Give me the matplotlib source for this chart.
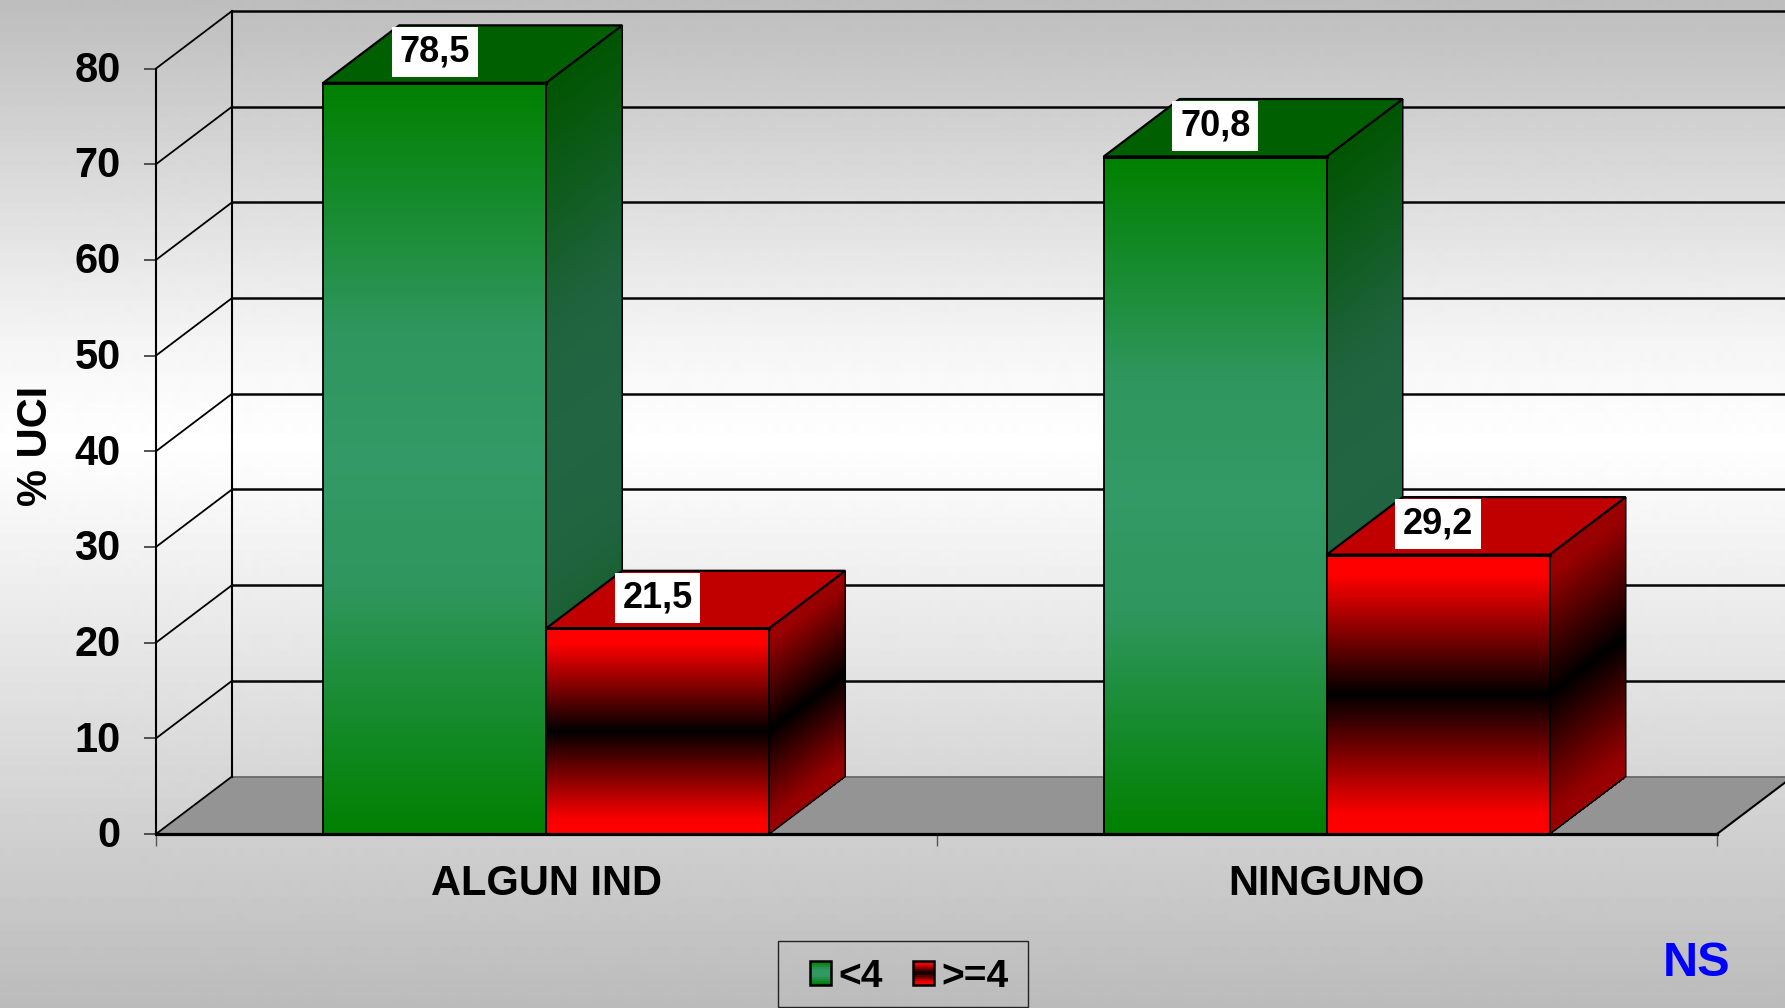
import numpy as np
import matplotlib
matplotlib.use("Agg")
import matplotlib.pyplot as plt
from matplotlib.legend_handler import HandlerBase
from matplotlib.patches import Patch, Polygon, Rectangle
from matplotlib.transforms import ScaledTranslation

categories = ["ALGUN IND", "NINGUNO"]
series_names = ["<4", ">=4"]
values_lt4 = [78.5, 70.8]
values_ge4 = [21.5, 29.2]
value_labels_lt4 = ["78,5", "70,8"]
value_labels_ge4 = ["21,5", "29,2"]
y_ticks = [0, 10, 20, 30, 40, 50, 60, 70, 80]
note = "NS"

W, H = 1785, 1008
L_PX, R_PX, Y0_PX, Y80_PX = 156, 1717, 834, 68.5
DX = 76 / ((R_PX - L_PX) / 2)          # depth, in category units
DY = 57.5 / ((Y0_PX - Y80_PX) / 80)    # depth, in value units
BAR_W = 223 / ((R_PX - L_PX) / 2)

plt.rcParams["font.family"] = ["Liberation Sans", "DejaVu Sans"]
plt.rcParams["font.weight"] = "bold"

GREEN_T = np.array([0, .33, .5, .67, 1])
GREEN = np.array([[0, 128, 0], [47, 150, 94], [51, 153, 102], [47, 150, 94], [0, 128, 0]]) / 255
RED_T = np.array([0, .07, .5, .93, 1])
RED = np.array([[255, 0, 0], [255, 0, 0], [0, 0, 0], [250, 0, 0], [255, 0, 0]]) / 255
STYLE = [
    dict(t=GREEN_T, front=GREEN, side=0.66, top="#005f00"),
    dict(t=RED_T, front=RED, side=0.60, top="#c00000"),
]


def ramp(t_stops, stops, n=240):
    t = np.linspace(0, 1, n)
    return np.stack([np.interp(t, t_stops, stops[:, i]) for i in range(3)], axis=1)


fig = plt.figure(figsize=(W / 100, H / 100), dpi=100)

# page background
bg = fig.add_axes([0, 0, 1, 1], zorder=-1)
bg.axis("off")
yy = np.linspace(0, 1, 1008)
grey = np.interp(yy, [0, 0.34, 0.44, 1], [0xbd, 0xf5, 0xff, 0xbb]) / 255
bg.imshow(grey[:, None], cmap="gray", vmin=0, vmax=1, aspect="auto")

ax = fig.add_axes([L_PX / W, 1 - Y0_PX / H, (R_PX - L_PX) / W, (Y0_PX - Y80_PX) / H])
ax.patch.set_alpha(0)
ax.set_xlim(0, 2)
ax.set_ylim(0, 80)

# walls and floor
ax.add_patch(Polygon([(0, 0), (2, 0), (2 + DX, DY), (DX, DY)], closed=True,
                     fc="#949494", ec="none", clip_on=False, zorder=1))
for v in y_ticks:
    if v > 0:
        ax.plot([DX, 2 + DX], [v + DY, v + DY], color="#050505", lw=1.8, clip_on=False, zorder=1.5)
        ax.plot([0, DX], [v, v + DY], color="k", lw=1.3, clip_on=False, zorder=1.5)
ax.plot([DX, 2 + DX], [DY, DY], color="#666666", lw=1.2, clip_on=False, zorder=1.5)
ax.plot([DX, DX], [DY, 80 + DY], color="k", lw=1.5, clip_on=False, zorder=1.5)
ax.plot([0, DX], [0, DY], color="k", lw=1.3, clip_on=False, zorder=1.5)
ax.plot([2, 2 + DX], [0, DY], color="k", lw=1.5, clip_on=False, zorder=1.5)


def bar3d(x0, value, style, z):
    x1 = x0 + BAR_W
    front = ramp(style["t"], style["front"])
    n = len(front)
    ys = np.linspace(value, 0, n + 1)
    # right side, sheared along the depth direction
    X = np.column_stack([np.full(n + 1, x1), np.full(n + 1, x1 + DX)])
    Y = np.column_stack([ys, ys + DY])
    m = ax.pcolormesh(X, Y, (front * style["side"])[:, None, :], zorder=z)
    m.set_clip_on(False)
    # front
    X = np.column_stack([np.full(n + 1, x0), np.full(n + 1, x1)])
    Y = np.column_stack([ys, ys])
    m = ax.pcolormesh(X, Y, front[:, None, :], zorder=z)
    m.set_clip_on(False)
    # top
    ax.add_patch(Polygon([(x0, value), (x1, value), (x1 + DX, value + DY), (x0 + DX, value + DY)],
                         closed=True, fc=style["top"], ec="k", lw=1.6, zorder=z, clip_on=False))
    ax.add_patch(Rectangle((x0, 0), BAR_W, value, fc="none", ec="k", lw=1.3, zorder=z + .1, clip_on=False))
    ax.add_patch(Polygon([(x1, 0), (x1 + DX, DY), (x1 + DX, value + DY), (x1, value)], closed=True,
                         fc="none", ec="k", lw=1.1, zorder=z + .1, clip_on=False))
    ax.plot([x0, x1], [value, value], color="k", lw=2.2, zorder=z + .2, clip_on=False)


def value_label(x, value, text):
    ax.text(x, value + 3.2, text, ha="center", va="center", fontsize=26, fontweight="bold",
            color="k", zorder=20, clip_on=False,
            bbox=dict(boxstyle="square,pad=0.21", fc="white", ec="none"))


for i in range(len(categories)):
    centre = i + 0.5
    bar3d(centre - BAR_W, values_lt4[i], STYLE[0], 3 + i * 2)
    bar3d(centre, values_ge4[i], STYLE[1], 4 + i * 2)
    value_label(centre - BAR_W / 2, values_lt4[i], value_labels_lt4[i])
    value_label(centre + BAR_W / 2, values_ge4[i], value_labels_ge4[i])

# axes furniture
for s in ("top", "right"):
    ax.spines[s].set_visible(False)
ax.spines["left"].set_linewidth(1.5)
ax.spines["left"].set_zorder(2)
ax.spines["bottom"].set_linewidth(2.3)
ax.spines["bottom"].set_zorder(15)
ax.set_yticks(y_ticks)
ax.tick_params(axis="y", length=8.5, width=1.3, color="#444444", pad=17, labelsize=30)
lift = ScaledTranslation(0, 2.2 / 100, fig.dpi_scale_trans)
for lab in ax.get_yticklabels():
    lab.set_transform(lab.get_transform() + lift)
ax.set_xticks([0, 1, 2])
ax.set_xticklabels([])
ax.tick_params(axis="x", which="major", length=8.5, width=1, color="#555555")
ax.set_xticks([i + 0.5 for i in range(len(categories))], minor=True)
ax.set_xticklabels(categories, minor=True, fontsize=30, fontweight="bold")
ax.tick_params(axis="x", which="minor", length=0, pad=21.5)
ax.set_ylabel("% UCI", fontsize=30, fontweight="bold", rotation=90, va="center", ha="center")
ax.yaxis.set_label_coords((36 - L_PX) / (R_PX - L_PX), (Y0_PX - 446) / (Y0_PX - Y80_PX))


class GradientSwatch(HandlerBase):
    def __init__(self, t_stops, stops):
        super().__init__()
        self.t_stops = t_stops
        self.stops = stops

    def create_artists(self, legend, orig, xd, yd, w, h, fontsize, trans):
        cols = ramp(self.t_stops, self.stops, 12)
        out = []
        for k, c in enumerate(cols):
            out.append(Rectangle((-xd, -yd + h * (1 - (k + 1) / 12)), w, h / 12 + .3, fc=c, ec="none", transform=trans))
        out.append(Rectangle((-xd, -yd), w, h, fc="none", ec="k", lw=1.8, transform=trans))
        return out


handles = [Patch(label=series_names[0]), Patch(label=series_names[1])]
leg = ax.legend(
    handles=handles, ncol=2, loc="center",
    bbox_to_anchor=(909 / W, 1 - 977 / H), bbox_transform=fig.transFigure,
    prop=dict(size=28, weight="bold"),
    handlelength=0.55, handleheight=0.56, handletextpad=0.18, columnspacing=0.78,
    borderpad=0, borderaxespad=0, frameon=False,
    handler_map={handles[0]: GradientSwatch(GREEN_T, GREEN), handles[1]: GradientSwatch(RED_T, RED)},
)
leg.set_zorder(25)
fig.add_artist(Rectangle((778 / W, 1 - 1007 / H), (1027.5 - 778) / W, (1007 - 941) / H, fc="none",
                         ec="#222222", lw=1, transform=fig.transFigure))

fig.text(1697 / W, 1 - 964 / H, note, color="#0000ff", fontsize=35, fontweight="bold",
         ha="center", va="center")

fig.savefig("out.png", dpi=100)
